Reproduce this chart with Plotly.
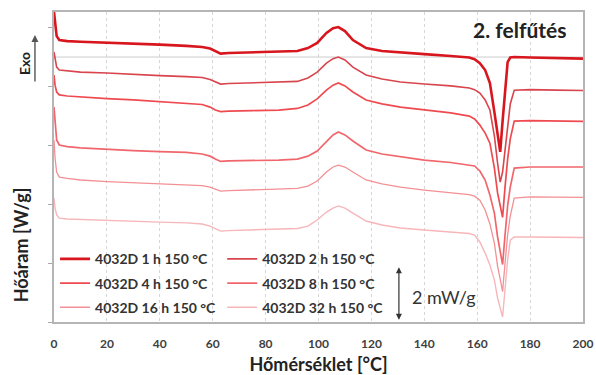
import plotly.graph_objects as go

# Temperature grid [°C]
temperature = [0, 0.4, 1, 2, 5, 10, 20, 30, 40, 50, 56, 59, 61, 63, 66, 75, 85, 92, 96, 99.5,
               103, 105.5, 107.5, 110, 113, 118, 124, 131, 140, 150, 157, 159, 161, 163, 164.8,
               166.5, 167.7, 168.7, 169.6, 170.5, 171.5, 172.5, 174, 180, 190, 200]

# Heat flow curves (offset, mW/g)
hf_1h = [11.70, 11.25, 10.79, 10.64, 10.60, 10.58, 10.55, 10.51, 10.47, 10.42, 10.38, 10.32, 10.23,
         10.13, 10.15, 10.17, 10.19, 10.23, 10.34, 10.53, 10.91, 11.09, 11.13, 10.98, 10.64, 10.34,
         10.23, 10.17, 10.11, 10.04, 9.98, 9.92, 9.77, 9.51, 9.02, 7.92, 7.06, 6.42, 7.58, 8.64,
         9.81, 9.98, 10.00, 9.98, 9.96, 9.94]
hf_2h = [10.19, 9.89, 9.62, 9.51, 9.47, 9.43, 9.40, 9.34, 9.30, 9.26, 9.23, 9.15, 9.06, 8.98, 9.00,
         9.02, 9.04, 9.08, 9.21, 9.43, 9.77, 9.94, 10.00, 9.89, 9.62, 9.32, 9.17, 9.06, 8.98, 8.91,
         8.83, 8.77, 8.64, 8.38, 8.00, 7.02, 6.00, 5.28, 5.66, 6.53, 7.51, 8.23, 8.75, 8.77, 8.75, 8.74]
hf_4h = [9.32, 8.94, 8.68, 8.57, 8.53, 8.49, 8.43, 8.38, 8.32, 8.26, 8.21, 8.11, 8.00, 7.94, 7.96,
         7.98, 8.00, 8.06, 8.19, 8.42, 8.75, 8.94, 9.02, 8.91, 8.68, 8.38, 8.23, 8.11, 8.00, 7.89,
         7.77, 7.66, 7.43, 7.13, 6.75, 5.81, 4.87, 4.42, 3.95, 5.06, 6.15, 6.91, 7.58, 7.60, 7.58, 7.57]
hf_8h = [8.11, 7.43, 6.87, 6.68, 6.62, 6.57, 6.51, 6.47, 6.43, 6.40, 6.34, 6.26, 6.15, 6.06, 6.08,
         6.09, 6.11, 6.15, 6.26, 6.45, 6.83, 7.06, 7.17, 7.06, 6.83, 6.49, 6.34, 6.23, 6.11, 6.02,
         5.94, 5.89, 5.70, 5.36, 4.79, 4.11, 3.21, 2.72, 2.17, 3.25, 4.38, 5.09, 5.81, 5.85, 5.85, 5.85]
hf_16h = [6.87, 6.19, 5.66, 5.47, 5.42, 5.36, 5.30, 5.26, 5.23, 5.19, 5.15, 5.09, 5.00, 4.94, 4.96,
          4.98, 5.00, 5.04, 5.13, 5.32, 5.66, 5.85, 5.92, 5.85, 5.66, 5.36, 5.21, 5.09, 4.98, 4.89,
          4.81, 4.75, 4.60, 4.23, 3.70, 2.98, 2.11, 1.62, 1.15, 2.19, 3.28, 4.00, 4.68, 4.72, 4.72, 4.70]
hf_32h = [4.68, 4.30, 4.04, 3.92, 3.89, 3.87, 3.83, 3.79, 3.77, 3.74, 3.70, 3.62, 3.51, 3.43, 3.45,
          3.47, 3.49, 3.53, 3.62, 3.85, 4.15, 4.30, 4.38, 4.30, 4.11, 3.81, 3.66, 3.55, 3.47, 3.40,
          3.34, 3.28, 3.02, 2.60, 2.15, 1.58, 0.91, 0.53, 0.19, 1.21, 2.34, 3.09, 3.21, 3.21, 3.21, 3.19]

series_names = ["4032D 1 h 150 °C", "4032D 2 h 150 °C", "4032D 4 h 150 °C",
                "4032D 8 h 150 °C", "4032D 16 h 150 °C", "4032D 32 h 150 °C"]
series_values = [hf_1h, hf_2h, hf_4h, hf_8h, hf_16h, hf_32h]
series_colors = ["#d8161e", "#d9454d", "#ee4a50", "#f0666c", "#f39095", "#f7b6ba"]
series_widths = [2.6, 1.6, 1.7, 1.7, 1.3, 1.4]
series_legend = ["legend", "legend2", "legend", "legend2", "legend", "legend2"]

x_ticks = [0, 20, 40, 60, 80, 100, 120, 140, 160, 180, 200]

FONT = "Lato"
fig = go.Figure()
for name, vals, col, w, lg in zip(series_names, series_values, series_colors, series_widths, series_legend):
    fig.add_trace(go.Scatter(x=temperature, y=vals, mode="lines", name=name,
                             line=dict(color=col, width=w), legend=lg, legendgroup=name))

legend_common = dict(bgcolor="rgba(0,0,0,0)", font=dict(family=FONT, size=14, color="#333333", weight="bold"),
                     tracegroupgap=3, yanchor="top", xanchor="left", orientation="v")

fig.update_layout(
    width=596, height=375,
    margin=dict(l=54, r=13, t=12, b=53),
    paper_bgcolor="white", plot_bgcolor="white",
    showlegend=True,
    legend=dict(x=0.002, y=0.254, **legend_common),
    legend2=dict(x=0.318, y=0.254, **legend_common),
    xaxis=dict(range=[0, 200], tickvals=x_ticks, showgrid=True, gridcolor="#d6d6d6", griddash="dot",
               gridwidth=1, showline=True, linecolor="#b5b5b5", linewidth=1.5, mirror=True,
               ticks="", ticklabelstandoff=10, zeroline=False, automargin=False,
               tickfont=dict(family=FONT, size=12, color="#404040", weight="bold"),
               title=dict(text="Hőmérséklet [°C]", standoff=10,
                          font=dict(family=FONT, size=18, color="#222222", weight="bold"))),
    yaxis=dict(range=[0, 11.7], showgrid=False, showline=True, linecolor="#b5b5b5", linewidth=1.5,
               mirror=True, ticks="outside", ticklen=4, tickcolor="#aaaaaa", tick0=0, dtick=2.22,
               showticklabels=False, zeroline=False, automargin=False),
)

# single horizontal gridline
fig.add_shape(type="line", xref="paper", x0=0, x1=1, yref="y", y0=10, y1=10,
              line=dict(color="#cccccc", width=1), layer="below")

# y title
fig.add_annotation(text="Hőáram [W/g]", xref="paper", yref="paper", x=-0.062, y=0.248,
                   xanchor="center", yanchor="middle", textangle=-90, showarrow=False,
                   font=dict(family=FONT, size=18, color="#222222", weight="bold"))
# Exo label and arrow
fig.add_annotation(text="Exo", xref="paper", yref="paper", x=-0.057, y=0.835, textangle=-90,
                   xanchor="center", yanchor="middle", showarrow=False,
                   font=dict(family=FONT, size=14, color="#222222", weight="bold"))
fig.add_annotation(text="", xref="paper", yref="paper", x=-0.036, y=0.926, ax=0, ay=48,
                   showarrow=True, arrowhead=2, arrowsize=1, arrowwidth=1.4, arrowcolor="#555555")
# title at top right
fig.add_annotation(text="2. felfűtés", xref="paper", yref="paper", x=0.972, y=0.942,
                   xanchor="right", yanchor="middle", showarrow=False,
                   font=dict(family=FONT, size=21, color="#222222", weight="bold"))
# scale bar
fig.add_annotation(text="", x=130.4, y=2.07, ax=130.4, ay=0.03, xref="x", yref="y",
                   axref="x", ayref="y", showarrow=True, arrowside="end+start",
                   arrowhead=2, startarrowhead=2, arrowsize=1, startarrowsize=1,
                   arrowwidth=1.2, arrowcolor="#333333")
fig.add_annotation(text="2 mW/g", x=134.5, y=0.95, xref="x", yref="y", xanchor="left",
                   yanchor="middle", showarrow=False,
                   font=dict(family=FONT, size=18, color="#333333"))

fig.write_html("out.html")
